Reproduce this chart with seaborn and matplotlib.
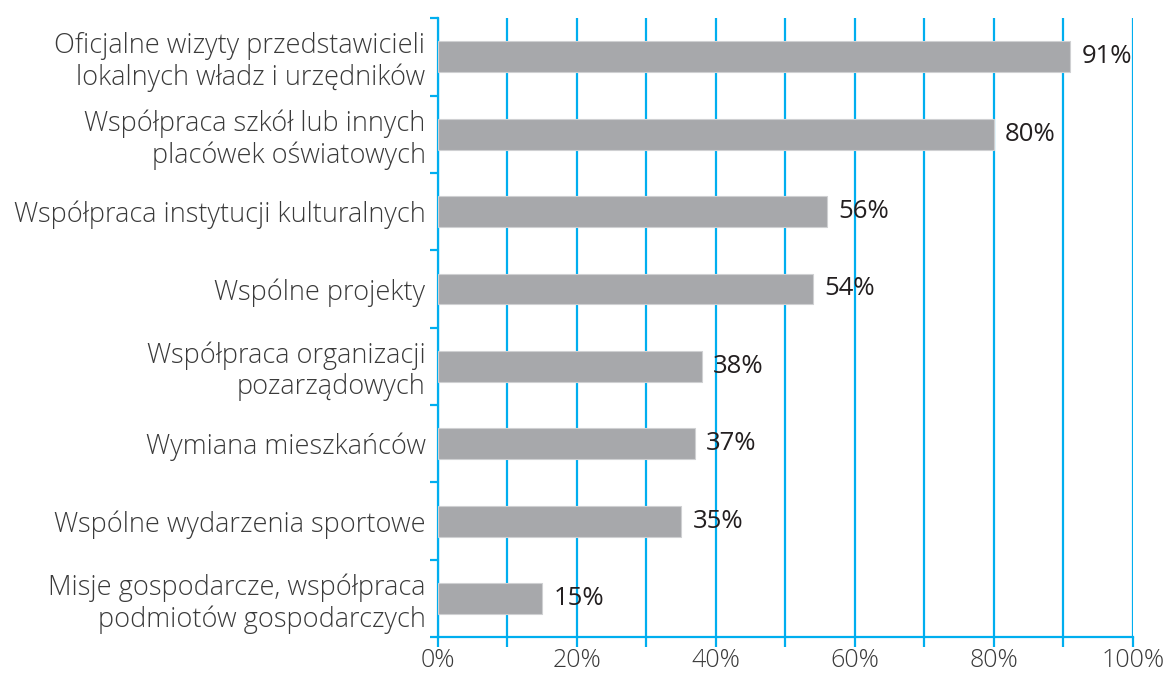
import matplotlib
matplotlib.use("Agg")
import matplotlib.pyplot as plt
import seaborn as sns
import pandas as pd
from matplotlib.ticker import MultipleLocator, FixedLocator, PercentFormatter

# data
categories = [
    "Oficjalne wizyty przedstawicieli\nlokalnych władz i urzędników",
    "Współpraca szkół lub innych\nplacówek oświatowych",
    "Współpraca instytucji kulturalnych",
    "Wspólne projekty",
    "Współpraca organizacji\npozarządowych",
    "Wymiana mieszkańców",
    "Wspólne wydarzenia sportowe",
    "Misje gospodarcze, współpraca\npodmiotów gospodarczych",
]
values = [91, 80, 56, 54, 38, 37, 35, 15]

df = pd.DataFrame({"category": categories, "value": values})

BLUE = "#00aeef"
BAR = "#a7a8ab"
TEXT = "#3a3a3a"

sns.set_style("white")
plt.rcParams["font.family"] = ["Open Sans", "DejaVu Sans"]

fig = plt.figure(figsize=(11.68, 6.77), dpi=100)
ax = fig.add_axes([0.375, 0.059, 0.595, 0.914])

sns.barplot(data=df, x="value", y="category", orient="h", color=BAR,
            width=0.4, edgecolor="#cfd0d2", linewidth=0.8, saturation=1, ax=ax,
            zorder=3)

ax.set_xlim(0, 100)
ax.set_ylim(7.5, -0.5)

# value labels
for i, v in enumerate(values):
    ax.annotate(f"{v}%", xy=(v, i), xytext=(8, 0), textcoords="offset points",
                va="center", ha="left", fontsize=18.5, color="#231f20",
                zorder=4)

# grid / axes styling
ax.xaxis.set_major_locator(MultipleLocator(20))
ax.xaxis.set_minor_locator(MultipleLocator(10))
ax.xaxis.set_major_formatter(PercentFormatter(decimals=0))
ax.grid(True, axis="x", which="both", color=BLUE, linewidth=1.6, zorder=0)
ax.set_axisbelow(True)

ax.yaxis.set_minor_locator(FixedLocator([i - 0.5 for i in range(len(values) + 1)]))
ax.tick_params(axis="y", which="major", length=0, pad=9, labelsize=19.5,
               labelcolor=TEXT)
ax.tick_params(axis="y", which="minor", length=6, width=1.6, color=BLUE,
               direction="out", left=True)
ax.tick_params(axis="x", which="both", length=7, width=1.6, color=BLUE,
               direction="out", bottom=True)
ax.tick_params(axis="x", which="major", labelsize=18, labelcolor=TEXT, pad=1)

for lbl in ax.get_yticklabels() + ax.get_xticklabels():
    lbl.set_fontweight("light")
for lbl in ax.get_yticklabels():
    lbl.set_linespacing(1.15)

for side in ["top", "right"]:
    ax.spines[side].set_visible(False)
for side in ["left", "bottom"]:
    ax.spines[side].set_color(BLUE)
    ax.spines[side].set_linewidth(1.6)

ax.set_xlabel("")
ax.set_ylabel("")

fig.savefig("out.png", dpi=100)
